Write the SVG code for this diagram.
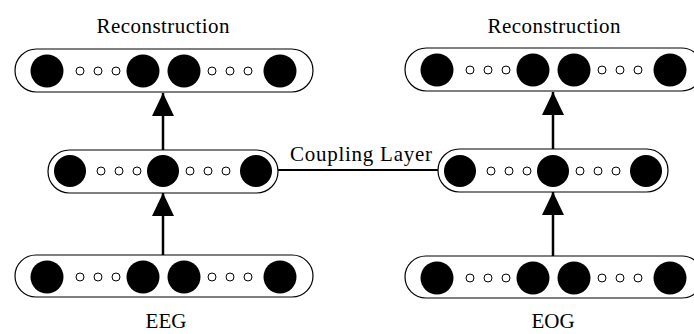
<svg xmlns="http://www.w3.org/2000/svg" width="694" height="334" viewBox="0 0 694 334">
<style>
.box{fill:#fff;stroke:#000;stroke-width:1.2}
.big{fill:#000}
.sm{fill:#fff;stroke:#000;stroke-width:1}
.lbl{font-family:'Liberation Serif','Times New Roman',Times,serif;font-size:21px;fill:#000}
.conn{stroke:#000;stroke-width:2.5;fill:none}
</style>
<defs>
<marker id="ah" viewBox="0 0 23 22" refX="23" refY="11" markerWidth="23" markerHeight="22" markerUnits="userSpaceOnUse" orient="auto">
<path d="M0,0 L23,11 L0,22 z" fill="#000"/>
</marker>
<g id="row4">
<circle class="big" cx="32" cy="0" r="16.5"/>
<circle class="sm" cx="65" cy="0" r="4"/>
<circle class="sm" cx="83" cy="0" r="4"/>
<circle class="sm" cx="101" cy="0" r="4"/>
<circle class="big" cx="128" cy="0" r="16.5"/>
<circle class="big" cx="169" cy="0" r="16.5"/>
<circle class="sm" cx="197" cy="0" r="4"/>
<circle class="sm" cx="215" cy="0" r="4"/>
<circle class="sm" cx="233" cy="0" r="4"/>
<circle class="big" cx="265" cy="0" r="16.5"/>
</g>
<g id="row3">
<circle class="big" cx="22" cy="0" r="16"/>
<circle class="sm" cx="53" cy="0" r="4"/>
<circle class="sm" cx="71" cy="0" r="4"/>
<circle class="sm" cx="89" cy="0" r="4"/>
<circle class="big" cx="115" cy="0" r="16"/>
<circle class="sm" cx="142" cy="0" r="4"/>
<circle class="sm" cx="160" cy="0" r="4"/>
<circle class="sm" cx="178" cy="0" r="4"/>
<circle class="big" cx="208" cy="0" r="16"/>
</g>
</defs>

<g id="connectors">
<line class="conn" x1="278" y1="170" x2="438" y2="170" style="stroke-width:2"/>
<line class="conn" x1="163" y1="150" x2="163" y2="93" marker-end="url(#ah)"/>
<line class="conn" x1="163" y1="255" x2="163" y2="193" marker-end="url(#ah)"/>
<line class="conn" x1="553" y1="149" x2="553" y2="92" marker-end="url(#ah)"/>
<line class="conn" x1="553" y1="256" x2="553" y2="192" marker-end="url(#ah)"/>
</g>

<g id="eeg-top">
<rect class="box" x="15" y="49" width="298" height="43" rx="21.5"/>
<use href="#row4" x="15" y="71"/>
</g>
<g id="eeg-mid">
<rect class="box" x="48" y="150" width="230" height="43" rx="21.5"/>
<use href="#row3" x="48" y="171"/>
</g>
<g id="eeg-bot">
<rect class="box" x="15" y="255" width="298" height="42" rx="21"/>
<use href="#row4" x="15" y="277"/>
</g>
<g id="eog-top">
<rect class="box" x="405" y="48" width="298" height="43" rx="21.5"/>
<use href="#row4" x="405" y="70"/>
</g>
<g id="eog-mid">
<rect class="box" x="438" y="149" width="230" height="43" rx="21.5"/>
<use href="#row3" x="438" y="171"/>
</g>
<g id="eog-bot">
<rect class="box" x="405" y="256" width="298" height="42" rx="21"/>
<use href="#row4" x="405" y="278"/>
</g>

<g id="labels">
<text class="lbl" font-family="Liberation Serif, serif" x="163" y="33" text-anchor="middle" textLength="133">Reconstruction</text>
<text class="lbl" font-family="Liberation Serif, serif" x="554" y="33" text-anchor="middle" textLength="133">Reconstruction</text>
<text class="lbl" font-family="Liberation Serif, serif" x="361" y="161" text-anchor="middle" textLength="142">Coupling Layer</text>
<text class="lbl" font-family="Liberation Serif, serif" x="166" y="328" text-anchor="middle">EEG</text>
<text class="lbl" font-family="Liberation Serif, serif" x="553" y="328" text-anchor="middle">EOG</text>
</g>
</svg>
